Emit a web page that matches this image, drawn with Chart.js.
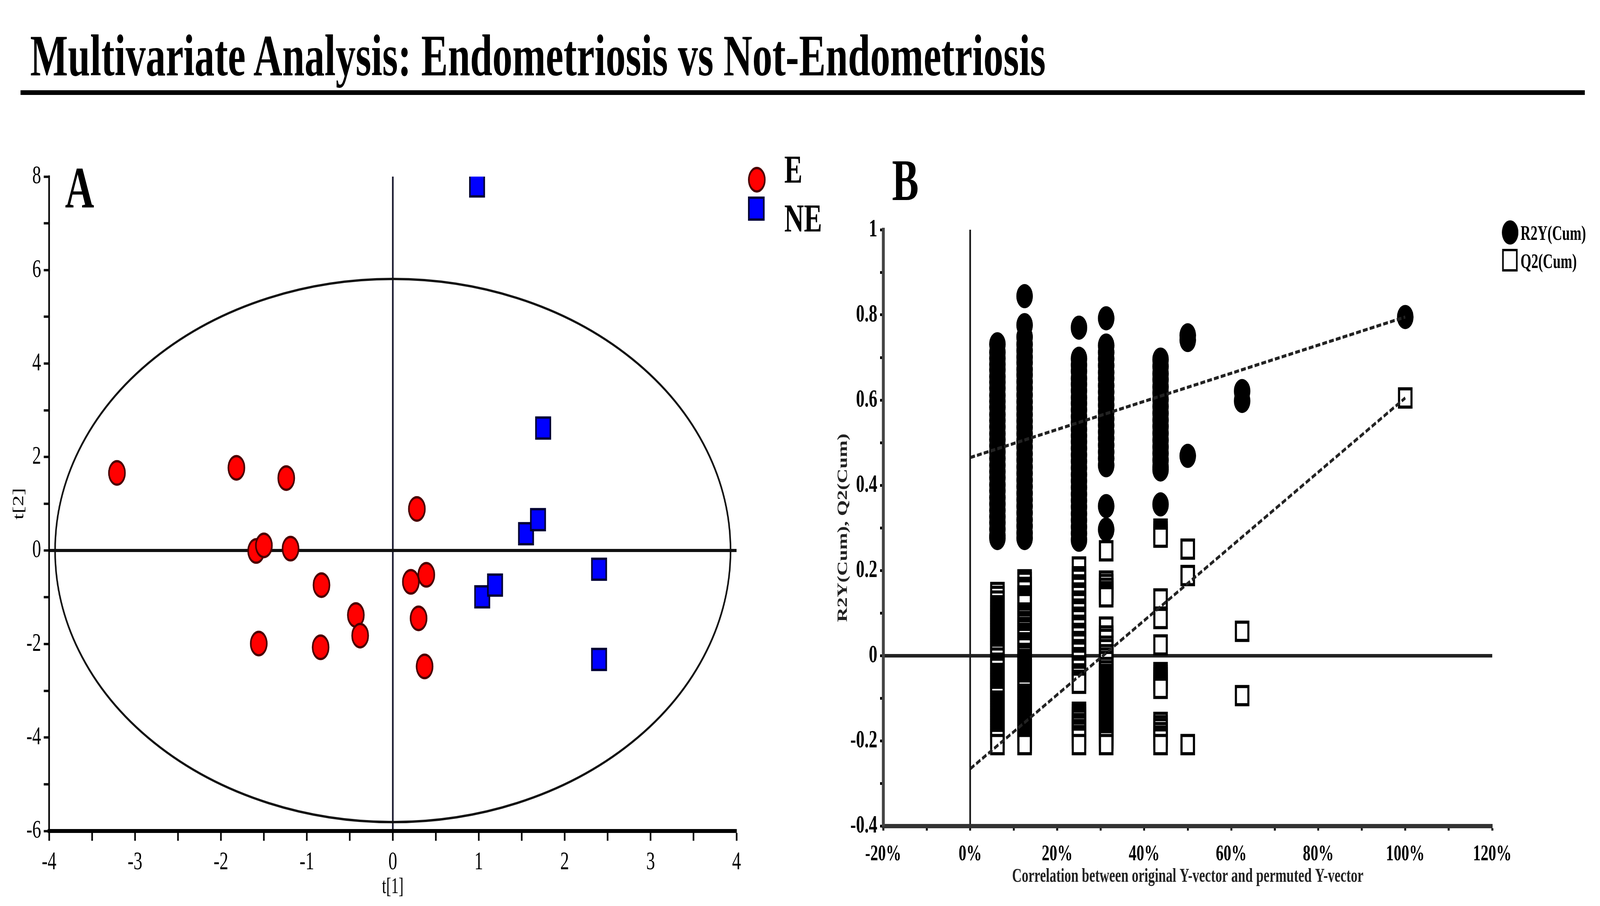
<!DOCTYPE html>
<html><head><meta charset="utf-8">
<script src="https://cdn.jsdelivr.net/npm/chart.js@4.4.1/dist/chart.umd.min.js"></script>
<style>
html,body{margin:0;padding:0;background:#fff;overflow:hidden;}
#page{position:relative;width:6000px;height:2319px;overflow:hidden;background:#fff;font-family:"Liberation Serif","Times New Roman",serif;color:#000;transform-origin:0 0;}
.t{position:absolute;white-space:nowrap;line-height:1;}
.mk{position:absolute;box-sizing:border-box;}
canvas{position:absolute;top:0;}
</style></head><body>
<div id="page">
  <canvas id="cA" width="3000" height="2319" style="left:0"></canvas>
  <canvas id="cB" width="3000" height="2319" style="left:3000px"></canvas>
  <div class="t" style="left:113px;top:67px;font-size:150px;font-weight:bold;">Multivariate Analysis: Endometriosis vs Not-Endometriosis</div>
  <div style="position:absolute;left:77px;top:231px;width:5866px;height:12px;background:#000"></div>
  <div class="t" style="left:244px;top:405px;font-size:151px;font-weight:bold">A</div>
  <div class="t" style="left:3345px;top:386px;font-size:150px;font-weight:bold">B</div>
  <div class="mk" style="left:2805px;top:427px;width:66px;height:66px;border-radius:50%;background:#ff0000;border:6px solid #4a0000"></div>
  <div class="mk" style="left:2805px;top:503px;width:62px;height:62px;background:#0000ff;border:6px solid #000033"></div>
  <div class="t" style="left:2941px;top:383px;font-size:102px;font-weight:bold">E</div>
  <div class="t" style="left:2941px;top:508px;font-size:102px;font-weight:bold">NE</div>
  <div class="mk" style="left:5632px;top:564px;width:62px;height:62px;border-radius:50%;background:#000"></div>
  <div class="mk" style="left:5633px;top:637px;width:58px;height:58px;background:#fff;border:6px solid #000"></div>
  <div class="t" style="left:5702px;top:571px;font-size:52px;font-weight:bold">R2Y(Cum)</div>
  <div class="t" style="left:5702px;top:643px;font-size:52px;font-weight:bold">Q2(Cum)</div>
</div>
<script>
// Fit the 6000x2319 design into whatever window the page is opened in.
(function fit() {
  const sx = Math.min(1, window.innerWidth / 6000);
  const sy = Math.min(1, window.innerHeight / 2319);
  document.getElementById('page').style.transform = 'scale(' + sx + ',' + sy + ')';
})();

// ---------- Panel A data (scores) ----------
const E_t1  = [-3.21, -1.82, -1.24, 0.28, -1.59, -1.50, -1.19, -0.83, 0.21, 0.39, -0.43, -0.38, 0.30, -1.56, -0.84, 0.37];
const E_t2  = [ 1.66,  1.77,  1.55, 0.89, -0.01,  0.11,  0.04, -0.74, -0.67, -0.52, -1.38, -1.82, -1.45, -1.99, -2.07, -2.48];
const NE_t1 = [0.98, 1.75, 1.55, 1.69, 2.40, 1.04, 1.19, 2.40];
const NE_t2 = [7.80, 2.62, 0.36, 0.66, -0.40, -0.99, -0.74, -2.33];
const ELLIPSE_T1 = 3.93;
const ELLIPSE_T2 = 5.81;
const A_X_RANGE = [-4, 4];
const A_Y_RANGE = [-6, 8];

// ---------- Panel B data (permutation test) ----------
const PERM_CORR = [0.0625, 0.125, 0.25, 0.3125, 0.4375, 0.5, 0.625, 1.0];
const R2Y_6  = [0.731,0.712,0.698,0.684,0.671,0.655,0.642,0.628,0.611,0.597,0.583,0.566,0.552,0.537,0.521,0.507,0.492,0.478,0.463,0.447,0.432,0.418,0.401,0.387,0.371,0.356,0.341,0.326,0.312,0.297,0.281,0.276];
const R2Y_12 = [0.844,0.776,0.748,0.731,0.716,0.701,0.688,0.672,0.659,0.643,0.628,0.612,0.596,0.581,0.566,0.551,0.536,0.521,0.505,0.490,0.474,0.459,0.443,0.428,0.412,0.397,0.381,0.366,0.351,0.335,0.319,0.304,0.288,0.276];
const R2Y_25 = [0.770,0.697,0.682,0.668,0.651,0.637,0.622,0.606,0.592,0.577,0.561,0.547,0.531,0.516,0.502,0.487,0.471,0.456,0.441,0.425,0.410,0.395,0.379,0.364,0.349,0.333,0.318,0.302,0.287,0.272];
const R2Y_31 = [0.792,0.728,0.712,0.697,0.681,0.665,0.651,0.634,0.619,0.603,0.588,0.572,0.556,0.541,0.525,0.510,0.494,0.478,0.463,0.447,0.351,0.296];
const R2Y_44 = [0.695,0.679,0.662,0.648,0.631,0.617,0.601,0.585,0.569,0.553,0.538,0.522,0.506,0.490,0.475,0.459,0.443,0.437,0.355];
const R2Y_50 = [0.752,0.741,0.469];
const R2Y_62 = [0.621,0.598];
const R2Y_100 = [0.795];

const Q2_6  = [0.148,0.139,0.128,0.117,0.111,0.105,0.099,0.093,0.087,0.081,0.075,0.069,0.063,0.057,0.051,0.045,0.039,0.033,0.027,0.021,0.015,0.009,0.003,-0.006,-0.018,-0.024,-0.030,-0.042,-0.048,-0.054,-0.060,-0.066,-0.072,-0.078,-0.084,-0.090,-0.096,-0.107,-0.113,-0.119,-0.125,-0.131,-0.137,-0.143,-0.149,-0.155,-0.161,-0.167,-0.173,-0.179,-0.185,-0.191,-0.197,-0.209];
const Q2_12 = [0.178,0.172,0.160,0.154,0.140,0.134,0.128,0.122,0.100,0.094,0.088,0.080,0.074,0.066,0.060,0.052,0.046,0.040,0.030,0.024,0.018,0.005,-0.001,-0.009,-0.015,-0.021,-0.027,-0.033,-0.039,-0.045,-0.051,-0.057,-0.063,-0.069,-0.075,-0.081,-0.091,-0.097,-0.103,-0.109,-0.115,-0.121,-0.127,-0.133,-0.139,-0.145,-0.151,-0.157,-0.163,-0.169,-0.175,-0.181,-0.187,-0.193,-0.199,-0.205,-0.209];
const Q2_25 = [0.208,0.185,0.179,0.166,0.160,0.147,0.141,0.128,0.122,0.109,0.103,0.090,0.084,0.071,0.065,0.052,0.046,0.033,0.027,0.014,0.008,-0.005,-0.011,-0.024,-0.030,-0.043,-0.049,-0.058,-0.065,-0.133,-0.139,-0.146,-0.152,-0.160,-0.166,-0.174,-0.180,-0.188,-0.194,-0.209];
const Q2_31 = [0.246,0.175,0.167,0.158,0.150,0.144,0.138,0.067,0.046,0.038,0.022,0.014,0.002,-0.006,-0.014,-0.028,-0.036,-0.044,-0.050,-0.056,-0.062,-0.068,-0.074,-0.080,-0.086,-0.092,-0.098,-0.104,-0.110,-0.116,-0.122,-0.128,-0.134,-0.140,-0.146,-0.152,-0.158,-0.164,-0.170,-0.176,-0.182,-0.188,-0.194,-0.200,-0.209];
const Q2_44 = [0.297,0.290,0.284,0.278,0.133,0.087,0.025,-0.040,-0.046,-0.052,-0.058,-0.064,-0.070,-0.077,-0.157,-0.165,-0.172,-0.181,-0.189,-0.196,-0.209];
const Q2_50 = [0.250,0.188,-0.209];
const Q2_62 = [0.057,-0.094];
const Q2_100 = [0.605];

const REG_X   = [0, 1.0];
const REG_R2Y = [0.465, 0.795];
const REG_Q2  = [-0.266, 0.605];
const B_X_RANGE = [-0.2, 1.2];
const B_Y_RANGE = [-0.4, 1.0];

const SERIF = '"Liberation Serif", "Times New Roman", serif';
const pts = (xs, ys) => xs.map((x, i) => ({x, y: ys[i]}));
const colPts = (cols) => cols.flatMap((vals, i) => vals.map(v => ({x: PERM_CORR[i], y: v})));
const isZero = v => Math.abs(v) < 1e-9;

const WYA = 149, HXA = 182;
const ellipsePlugin = {
  id: 'ellipse',
  beforeDatasetsDraw(chart) {
    const {ctx, scales: {x, y}} = chart;
    const cx = x.getPixelForValue(0), cy = y.getPixelForValue(0);
    const rx = x.getPixelForValue(ELLIPSE_T1) - cx;
    const ry = cy - y.getPixelForValue(ELLIPSE_T2);
    ctx.save();
    ctx.beginPath();
    ctx.ellipse(cx, cy, rx, ry, 0, 0, Math.PI * 2);
    ctx.lineWidth = 6;
    ctx.strokeStyle = '#111';
    ctx.stroke();
    ctx.restore();
  }
};

new Chart(document.getElementById('cA'), {
  type: 'scatter',
  data: {datasets: [
    {label: 'E', data: pts(E_t1, E_t2), pointStyle: 'circle', pointRadius: 30, pointHoverRadius: 30,
     pointBackgroundColor: '#ff0000', pointBorderColor: '#4a0000', pointBorderWidth: 6, clip: 0},
    {label: 'NE', data: pts(NE_t1, NE_t2), pointStyle: 'rect', pointRadius: 38, pointHoverRadius: 38,
     pointBackgroundColor: '#0000ff', pointBorderColor: '#000033', pointBorderWidth: 6, clip: 0}
  ]},
  options: {
    responsive: false, devicePixelRatio: 1, animation: false,
    layout: {padding: {left: 184 - WYA, right: 3000 - 2762, top: 452, bottom: 2319 - 2127 - HXA}},
    plugins: {legend: {display: false}, tooltip: {enabled: false}},
    scales: {
      x: {
        type: 'linear', min: A_X_RANGE[0], max: A_X_RANGE[1],
        ticks: {stepSize: 0.5, autoSkip: false, maxRotation: 0, minRotation: 0, padding: 16,
                font: {family: SERIF, size: 66}, color: '#000',
                callback: v => Number.isInteger(v) ? String(v) : ''},
        grid: {drawOnChartArea: true, drawTicks: true, tickLength: 25, tickWidth: 6, tickColor: '#000',
               color: c => (c.tick && isZero(c.tick.value)) ? '#15152a' : 'rgba(0,0,0,0)',
               lineWidth: c => (c.tick && isZero(c.tick.value)) ? 6 : 1},
        border: {display: true, color: '#000', width: 10},
        title: {display: true, text: 't[1]', font: {family: SERIF, size: 56}, color: '#000', padding: 4},
        afterFit: s => { s.height = HXA; s.paddingLeft = 0; s.paddingRight = 0; }
      },
      y: {
        type: 'linear', min: A_Y_RANGE[0], max: A_Y_RANGE[1],
        ticks: {stepSize: 1, autoSkip: false, padding: 10,
                font: {family: SERIF, size: 66}, color: '#000',
                callback: v => (Number.isInteger(v) && v % 2 === 0) ? String(v) : ''},
        grid: {drawOnChartArea: true, drawTicks: true, tickLength: 20, tickWidth: 6, tickColor: '#000',
               color: c => (c.tick && isZero(c.tick.value)) ? '#111' : 'rgba(0,0,0,0)',
               lineWidth: c => (c.tick && isZero(c.tick.value)) ? 8 : 1},
        border: {display: true, color: '#000', width: 6},
        title: {display: true, text: 't[2]', font: {family: SERIF, size: 56}, color: '#000', padding: 4},
        afterFit: s => { s.width = WYA; s.paddingTop = 0; s.paddingBottom = 0; }
      }
    }
  },
  plugins: [ellipsePlugin]
});

const WYB = 185, HXB = 164;
const R2Y_COLS = [R2Y_6, R2Y_12, R2Y_25, R2Y_31, R2Y_44, R2Y_50, R2Y_62, R2Y_100];
const Q2_COLS  = [Q2_6, Q2_12, Q2_25, Q2_31, Q2_44, Q2_50, Q2_62, Q2_100];

new Chart(document.getElementById('cB'), {
  type: 'scatter',
  data: {datasets: [
    {label: 'R2Y fit', data: pts(REG_X, REG_R2Y), showLine: true, pointRadius: 0, pointHoverRadius: 0,
     borderColor: '#222', borderWidth: 8, borderDash: [18, 8], fill: false},
    {label: 'Q2 fit', data: pts(REG_X, REG_Q2), showLine: true, pointRadius: 0, pointHoverRadius: 0,
     borderColor: '#222', borderWidth: 8, borderDash: [18, 8], fill: false},
    {label: 'R2Y(Cum)', data: colPts(R2Y_COLS), pointStyle: 'circle', pointRadius: 31, pointHoverRadius: 31,
     pointBackgroundColor: '#000', pointBorderColor: '#000', pointBorderWidth: 0},
    {label: 'Q2(Cum)', data: colPts(Q2_COLS), pointStyle: 'rect', pointRadius: 33, pointHoverRadius: 33,
     pointBackgroundColor: '#fff', pointBorderColor: '#000', pointBorderWidth: 8}
  ]},
  options: {
    responsive: false, devicePixelRatio: 1, animation: false,
    layout: {padding: {left: 312 - WYB, right: 3000 - 2596, top: 588, bottom: 2319 - 2114 - HXB}},
    plugins: {legend: {display: false}, tooltip: {enabled: false}},
    scales: {
      x: {
        type: 'linear', min: B_X_RANGE[0], max: B_X_RANGE[1],
        ticks: {stepSize: 0.1, autoSkip: false, maxRotation: 0, minRotation: 0, padding: 26,
                font: {family: SERIF, size: 58, weight: 'bold'}, color: '#000',
                callback: v => { const k = Math.round(v * 10); return (k % 2 === 0) ? (k * 10) + '%' : ''; }},
        grid: {drawOnChartArea: true, drawTicks: true, tickLength: 12, tickWidth: 7, tickColor: '#000',
               color: c => (c.tick && isZero(c.tick.value)) ? '#111' : 'rgba(0,0,0,0)',
               lineWidth: c => (c.tick && isZero(c.tick.value)) ? 6 : 1},
        border: {display: true, color: '#333', width: 11},
        title: {display: true, text: 'Correlation between original Y-vector and permuted Y-vector',
                font: {family: SERIF, size: 50, weight: 'bold'}, color: '#222', padding: 4},
        afterFit: s => { s.height = HXB; s.paddingLeft = 0; s.paddingRight = 0; }
      },
      y: {
        type: 'linear', min: B_Y_RANGE[0], max: B_Y_RANGE[1],
        ticks: {stepSize: 0.1, autoSkip: false, padding: 10,
                font: {family: SERIF, size: 64, weight: 'bold'}, color: '#000',
                callback: v => { const k = Math.round(v * 10); return (k % 2 === 0) ? String(k / 10) : ''; }},
        grid: {drawOnChartArea: true, drawTicks: true, tickLength: 12, tickWidth: 7, tickColor: '#000',
               color: c => (c.tick && isZero(c.tick.value)) ? '#222' : 'rgba(0,0,0,0)',
               lineWidth: c => (c.tick && isZero(c.tick.value)) ? 9 : 1},
        border: {display: true, color: '#444', width: 11},
        title: {display: true, text: 'R2Y(Cum), Q2(Cum)',
                font: {family: SERIF, size: 52, weight: 'bold'}, color: '#222', padding: 4},
        afterFit: s => { s.width = WYB; s.paddingTop = 0; s.paddingBottom = 0; }
      }
    }
  }
});
</script>
</body></html>
